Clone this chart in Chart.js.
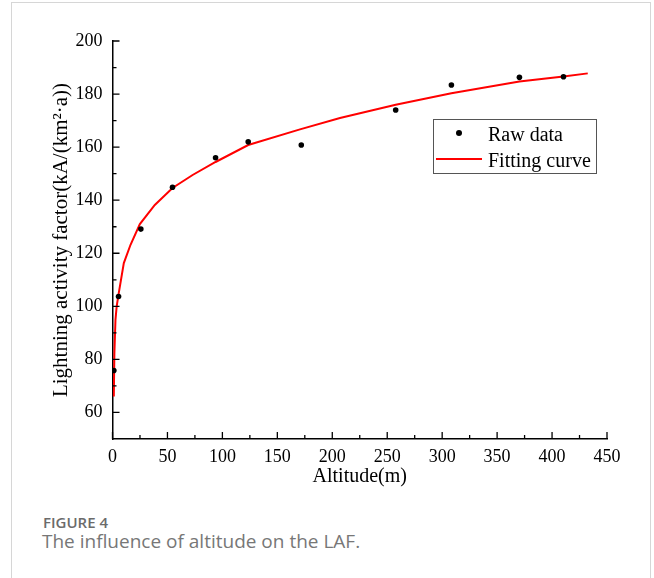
<!DOCTYPE html>
<html>
<head>
<meta charset="utf-8">
<script src="https://cdn.jsdelivr.net/npm/chart.js@4/dist/chart.umd.min.js"></script>
<style>
  body { margin: 0; background: #fff; width: 654px; height: 578px; overflow: hidden; position: relative; }
  #card { position: absolute; left: 11px; top: 2px; width: 640px; height: 600px; border: 1px solid #d6d6d6; box-sizing: border-box; }
  #wrap { position: absolute; left: 0; top: 0; width: 654px; height: 500px; }
  #legend { position: absolute; left: 433px; top: 119px; width: 164px; height: 55px; border: 1px solid #555; box-sizing: border-box; font: 20px 'Liberation Serif', serif; color: #000; }
  #legend .txt { position: absolute; left: 54px; line-height: 20px; white-space: nowrap; }
  #legend .dot { position: absolute; width: 6px; height: 6px; border-radius: 50%; background: #000; }
  #legend .line { position: absolute; height: 2px; background: #ff0000; }
  #figno { position: absolute; left: 43px; top: 512px; font: 600 15px 'Open Sans', sans-serif; color: #6b6b6b; }
  #figcap { position: absolute; left: 42px; top: 528px; font: 19px 'Open Sans', sans-serif; color: #777; }
</style>
</head>
<body>
<div id="card"></div>
<div id="wrap"><canvas id="laf" width="654" height="500"></canvas></div>
<div id="legend"></div>
<div id="figno">FIGURE 4</div>
<div id="figcap">The influence of altitude on the LAF.</div>
<script>
let seriesNames = ['Raw data', 'Fitting curve'];

// raw measurements
let rawAltitude = [1.2, 5.5, 25.8, 54.6, 93.8, 123.5, 171.8, 257.7, 308.4, 370.3, 410.4];
let rawLaf = [75.8, 103.7, 129.1, 144.9, 156.0, 162.0, 160.8, 174.0, 183.4, 186.3, 186.5];

// fitted curve
let fitAltitude = [1.2, 1.7, 2.7, 3.8, 5.5, 10.3, 16.4, 24.9, 38.5, 54.6, 72.9, 93.8, 123.5, 170.6, 207, 257.7, 308.4, 370.3, 410.4, 432.5];
let fitLaf = [66.0, 82.0, 94.9, 100.0, 104.5, 116.3, 123.2, 131.0, 138.2, 144.6, 149.5, 154.4, 160.8, 166.7, 171.0, 176.0, 180.3, 184.7, 186.6, 187.8];

let xTicks = [0, 50, 100, 150, 200, 250, 300, 350, 400, 450];
let xMinor = [25, 75, 125, 175, 225, 275, 325, 375, 425];
let yTicks = [60, 80, 100, 120, 140, 160, 180, 200];
let yMinor = [70, 90, 110, 130, 150, 170, 190];

const serif = 'Liberation Serif';

// ticks point inward, Origin style
const innerTicks = {
  id: 'innerTicks',
  afterDraw(chart) {
    const {ctx, chartArea, scales: {x, y}} = chart;
    ctx.save();
    ctx.strokeStyle = '#000';
    ctx.lineWidth = 1.3;
    ctx.beginPath();
    xTicks.forEach(v => { const p = x.getPixelForValue(v); ctx.moveTo(p, chartArea.bottom); ctx.lineTo(p, chartArea.bottom - 7); });
    xMinor.forEach(v => { const p = x.getPixelForValue(v); ctx.moveTo(p, chartArea.bottom); ctx.lineTo(p, chartArea.bottom - 4); });
    yTicks.forEach(v => { const p = y.getPixelForValue(v); ctx.moveTo(chartArea.left, p); ctx.lineTo(chartArea.left + 7, p); });
    yMinor.forEach(v => { const p = y.getPixelForValue(v); ctx.moveTo(chartArea.left, p); ctx.lineTo(chartArea.left + 4, p); });
    ctx.stroke();
    ctx.restore();
  }
};

let lafChart = new Chart('laf', {
  type: 'scatter',
  data: {
    datasets: [{
      label: seriesNames[0],
      data: rawAltitude.map((a, i) => ({x: a, y: rawLaf[i]})),
      pointRadius: 2.8,
      pointBackgroundColor: '#000',
      pointBorderWidth: 0,
      showLine: false
    }, {
      label: seriesNames[1],
      data: fitAltitude.map((a, i) => ({x: a, y: fitLaf[i]})),
      showLine: true,
      borderColor: '#ff0000',
      borderWidth: 2,
      pointRadius: 0,
      tension: 0
    }]
  },
  options: {
    responsive: false,
    animation: false,
    layout: { padding: { left: 0, top: 41, right: 47, bottom: 0 } },
    plugins: { legend: { display: false }, tooltip: { enabled: false } },
    scales: {
      x: {
        type: 'linear',
        min: 0,
        max: 450,
        afterFit: s => { s.height = 61; },
        afterBuildTicks: s => { s.ticks = xTicks.map(v => ({value: v})); },
        grid: { drawOnChartArea: false, drawTicks: false },
        border: { display: true, color: '#000', width: 1.5 },
        ticks: { color: '#000', padding: 7, maxRotation: 0, font: { family: serif, size: 18 } },
        title: { display: true, text: 'Altitude(m)', color: '#000', padding: { top: 0, bottom: 11.5 }, font: { family: serif, size: 20 } }
      },
      y: {
        min: 50,
        max: 200,
        afterFit: s => { s.width = 112.5; },
        afterBuildTicks: s => { s.ticks = yTicks.map(v => ({value: v})); },
        grid: { drawOnChartArea: false, drawTicks: false },
        border: { display: true, color: '#000', width: 1.5 },
        ticks: { color: '#000', padding: 10, font: { family: serif, size: 18 } },
        title: { display: true, text: 'Lightning activity factor(kA/(km²·a))', color: '#000', padding: { top: 49, bottom: 0 }, font: { family: serif, size: 21 } }
      }
    }
  },
  plugins: [innerTicks]
});

// legend box drawn in html, from the dataset names
const legend = document.getElementById('legend');
legend.innerHTML =
  '<span class="dot" style="left:22px;top:10px"></span>' +
  '<span class="txt" style="top:4px">' + seriesNames[0] + '</span>' +
  '<span class="line" style="left:2px;width:46px;top:38px"></span>' +
  '<span class="txt" style="top:30px">' + seriesNames[1] + '</span>';
</script>
</body>
</html>
